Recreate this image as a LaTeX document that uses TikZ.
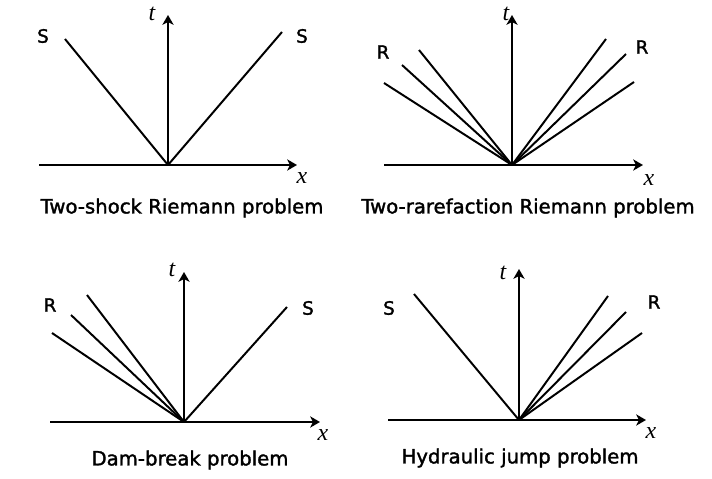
\documentclass[tikz,border=0pt]{standalone}
\usepackage{fontspec}
\setmainfont{DejaVu Sans}
\newfontfamily\heavyfont{DejaVu Sans}[RawFeature={embolden=1.6}]
\newfontfamily\axfont{Liberation Serif}
\usetikzlibrary{arrows.meta}

\begin{document}
\begin{tikzpicture}[
    x=0.025cm, y=-0.025cm,
    axis/.style={line width=1.9pt, -{Stealth[length=7pt,width=8pt,inset=2pt]}},
    wave/.style={line width=1.4pt},
    wavelbl/.style={font=\heavyfont\fontsize{13}{15}\selectfont},
    axlbl/.style={font=\axfont\itshape\fontsize{17}{19}\selectfont},
    caption/.style={font=\heavyfont\fontsize{14}{16}\selectfont}
]
\useasboundingbox (0,0) rectangle (712,479);

% two shocks
\coordinate (o1) at (168,165);
\coordinate (xa1) at (39,165);
\coordinate (x1) at (297,165);
\coordinate (t1) at (168,15);
\coordinate (s1l) at (65,39);
\coordinate (s1r) at (282,32);
\draw[axis] (xa1) -- (x1);
\draw[axis] (o1) -- (t1);
\draw[wave] (o1) -- (s1l);
\draw[wave] (o1) -- (s1r);
\node[axlbl] (tl1) at (152,14) {t};
\node[axlbl] (xl1) at (302,178) {x};
\node[wavelbl] (w1l) at (43,36) {S};
\node[wavelbl] (w1r) at (302,36) {S};
\node[caption] (cap1) at (182,208) {Two-shock Riemann problem};

% two rarefactions
\coordinate (o2) at (512,165);
\coordinate (xa2) at (384,165);
\coordinate (x2) at (643,165);
\coordinate (t2) at (512,15);
\coordinate (r2a) at (384,83);
\coordinate (r2b) at (402,65);
\coordinate (r2c) at (419,50);
\coordinate (r2d) at (606,39);
\coordinate (r2e) at (626,54);
\coordinate (r2f) at (634,82);
\draw[axis] (xa2) -- (x2);
\draw[axis] (o2) -- (t2);
\foreach \p in {r2a,r2b,r2c,r2d,r2e,r2f}
    \draw[wave] (o2) -- (\p);
\node[axlbl] (tl2) at (506,14) {t};
\node[axlbl] (xl2) at (649,180) {x};
\node[wavelbl] (w2l) at (383,52) {R};
\node[wavelbl] (w2r) at (642,47) {R};
\node[caption] (cap2) at (528,208) {Two-rarefaction Riemann problem};

% dam break
\coordinate (o3) at (184,422);
\coordinate (xa3) at (50,422);
\coordinate (x3) at (320,422);
\coordinate (t3) at (184,272);
\coordinate (r3a) at (52,333);
\coordinate (r3b) at (71,315);
\coordinate (r3c) at (87,295);
\coordinate (s3r) at (287,307);
\draw[axis] (xa3) -- (x3);
\draw[axis] (o3) -- (t3);
\foreach \p in {r3a,r3b,r3c,s3r}
    \draw[wave] (o3) -- (\p);
\node[axlbl] (tl3) at (172,270) {t};
\node[axlbl] (xl3) at (323,435) {x};
\node[wavelbl] (w3l) at (50,305) {R};
\node[wavelbl] (w3r) at (308,308) {S};
\node[caption] (cap3) at (190,460) {Dam-break problem};

% hydraulic jump
\coordinate (o4) at (519,420);
\coordinate (xa4) at (388,420);
\coordinate (x4) at (646,420);
\coordinate (t4) at (519,269);
\coordinate (s4l) at (414,294);
\coordinate (r4a) at (608,296);
\coordinate (r4b) at (626,312);
\coordinate (r4c) at (642,333);
\draw[axis] (xa4) -- (x4);
\draw[axis] (o4) -- (t4);
\foreach \p in {s4l,r4a,r4b,r4c}
    \draw[wave] (o4) -- (\p);
\node[axlbl] (tl4) at (503,273) {t};
\node[axlbl] (xl4) at (651,433) {x};
\node[wavelbl] (w4l) at (389,308) {S};
\node[wavelbl] (w4r) at (654,302) {R};
\node[caption] (cap4) at (520,458) {Hydraulic jump problem};
\end{tikzpicture}
\end{document}
